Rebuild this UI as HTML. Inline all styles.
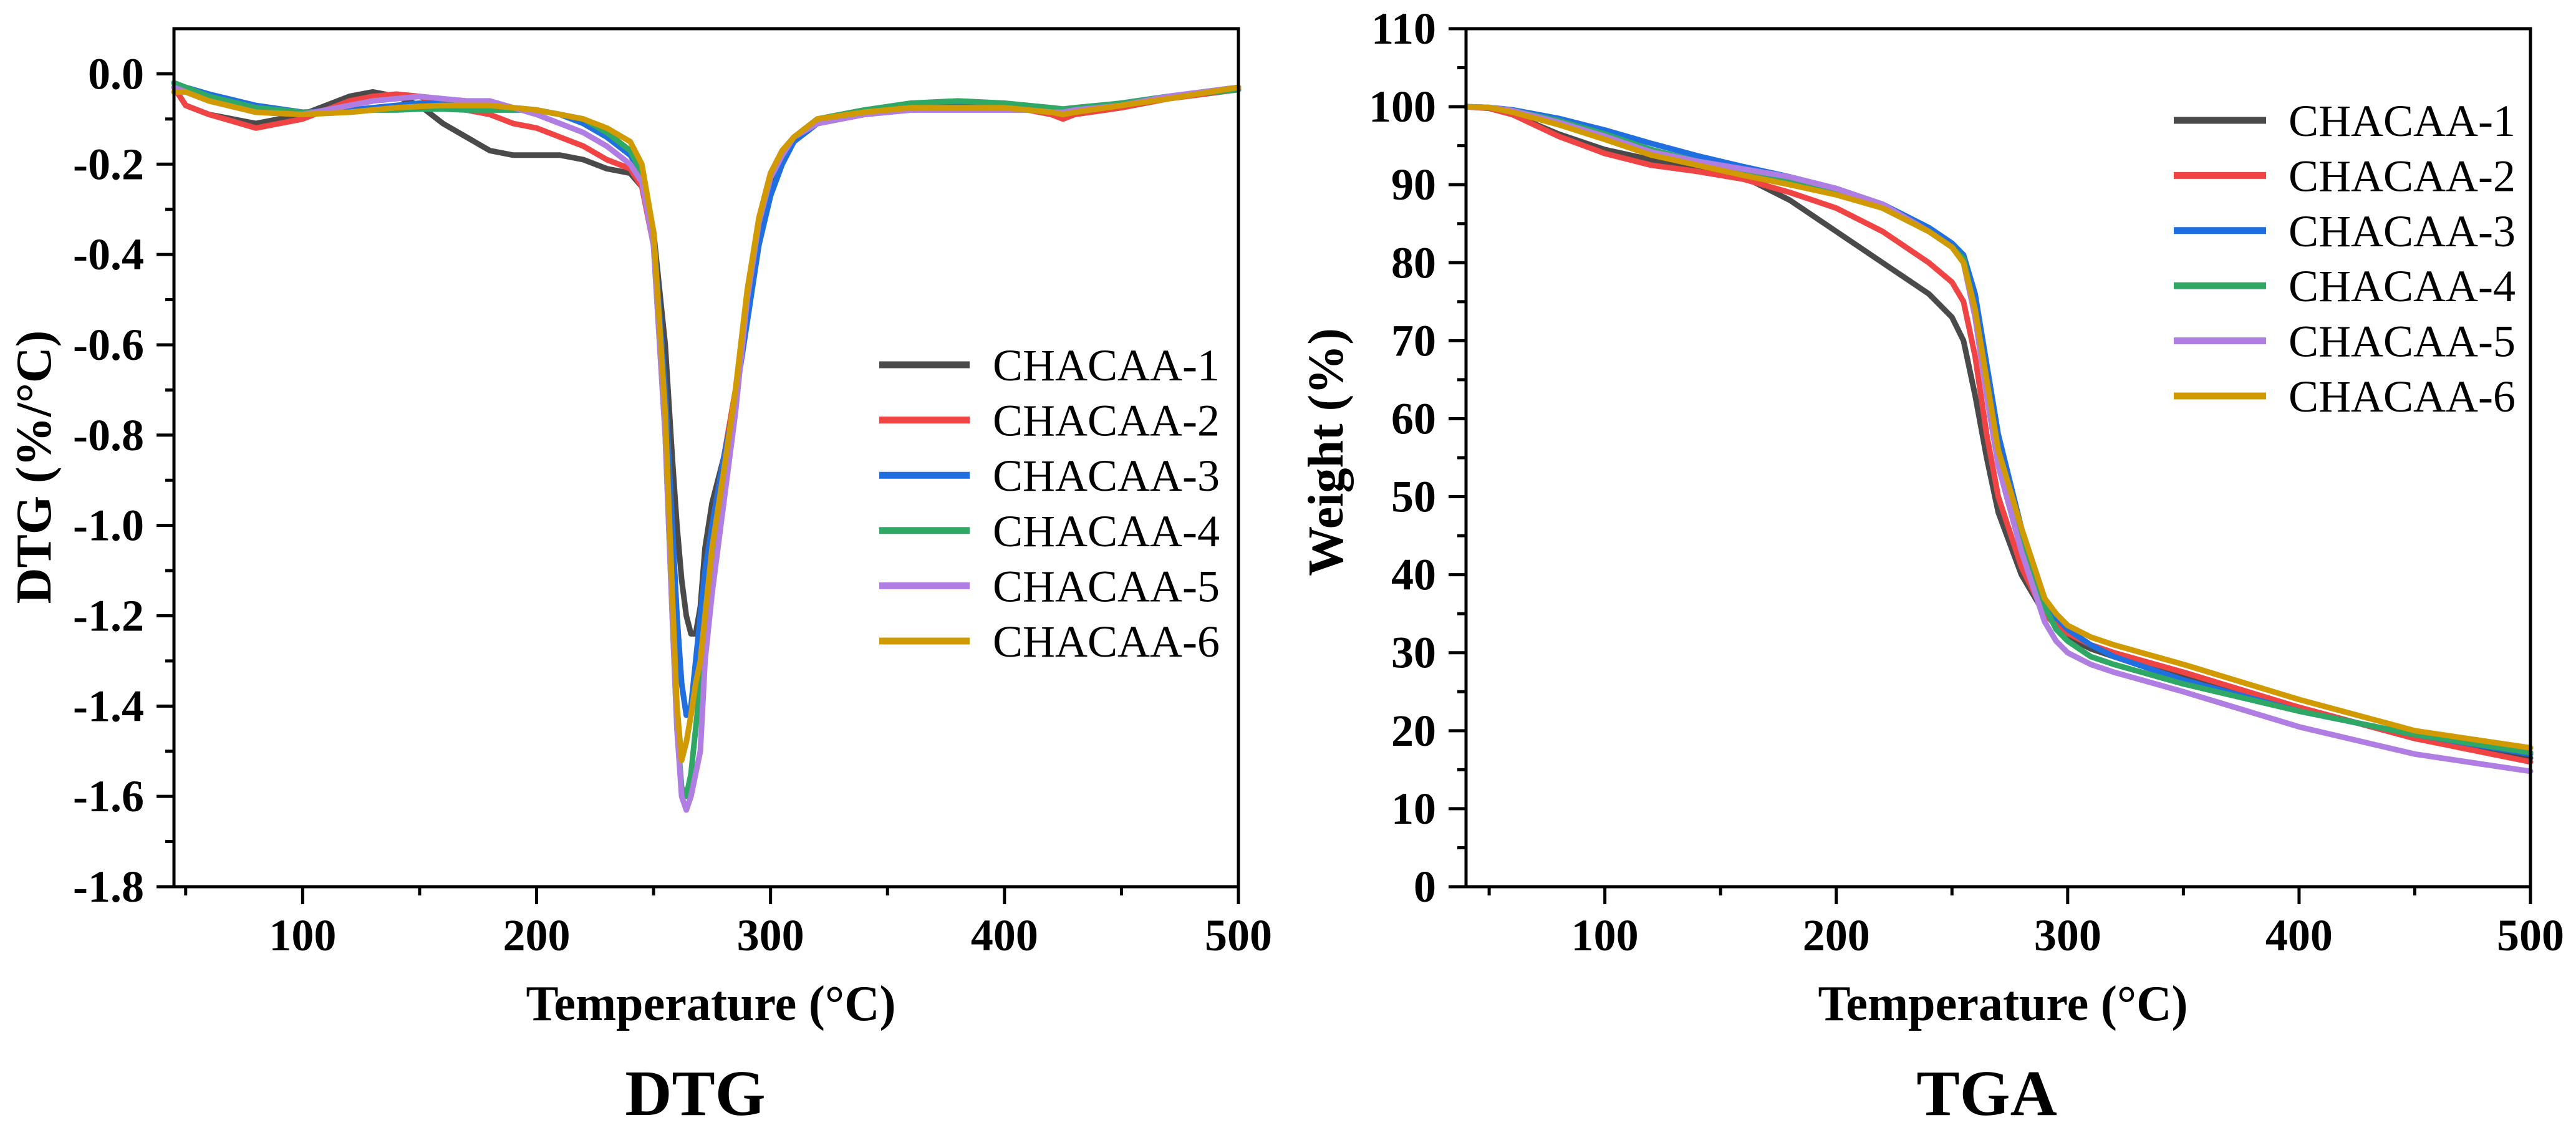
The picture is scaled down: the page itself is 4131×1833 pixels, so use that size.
<!DOCTYPE html>
<html><head><meta charset="utf-8"><style>
html,body{margin:0;padding:0;background:#fff;}
svg{display:block;}
svg text{font-family:"Liberation Serif","Times New Roman",Times,serif;}
</style></head>
<body>
<svg id="fig" width="4131" height="1833" viewBox="0 0 4131 1833" xmlns="http://www.w3.org/2000/svg"></svg>
<script>
// ---------- DTG data ----------
const dtgTemps = [45,50,60,80,100,120,130,140,150,160,170,180,190,200,210,220,230,240,245,250,255,258,260,262,264,266,268,270,272,275,280,285,290,295,300,305,310,320,340,360,380,400,410,420,425,430,450,470,500];
const dtg1 = [-0.03,-0.07,-0.09,-0.11,-0.09,-0.05,-0.04,-0.05,-0.07,-0.11,-0.14,-0.17,-0.18,-0.18,-0.18,-0.19,-0.21,-0.22,-0.25,-0.35,-0.6,-0.85,-1.0,-1.12,-1.2,-1.24,-1.24,-1.18,-1.05,-0.95,-0.85,-0.72,-0.5,-0.35,-0.25,-0.19,-0.15,-0.11,-0.09,-0.075,-0.07,-0.075,-0.075,-0.085,-0.09,-0.085,-0.07,-0.055,-0.03];
const dtg2 = [-0.03,-0.07,-0.09,-0.12,-0.1,-0.06,-0.05,-0.045,-0.05,-0.07,-0.08,-0.09,-0.11,-0.12,-0.14,-0.16,-0.19,-0.21,-0.25,-0.38,-0.7,-1.0,-1.2,-1.35,-1.42,-1.42,-1.35,-1.22,-1.12,-1.0,-0.85,-0.7,-0.5,-0.32,-0.22,-0.17,-0.14,-0.11,-0.09,-0.08,-0.075,-0.075,-0.08,-0.09,-0.1,-0.09,-0.075,-0.055,-0.035];
const dtg3 = [-0.02,-0.03,-0.045,-0.07,-0.085,-0.08,-0.075,-0.07,-0.065,-0.065,-0.07,-0.07,-0.075,-0.08,-0.09,-0.11,-0.14,-0.18,-0.22,-0.35,-0.7,-1.0,-1.2,-1.35,-1.42,-1.4,-1.3,-1.2,-1.1,-1.0,-0.85,-0.72,-0.55,-0.38,-0.27,-0.2,-0.15,-0.11,-0.085,-0.075,-0.07,-0.075,-0.075,-0.08,-0.08,-0.08,-0.065,-0.05,-0.03];
const dtg4 = [-0.02,-0.03,-0.05,-0.075,-0.085,-0.085,-0.08,-0.08,-0.078,-0.078,-0.08,-0.08,-0.08,-0.08,-0.09,-0.1,-0.13,-0.17,-0.22,-0.38,-0.8,-1.2,-1.45,-1.58,-1.6,-1.55,-1.45,-1.35,-1.2,-1.1,-0.9,-0.72,-0.5,-0.33,-0.23,-0.18,-0.14,-0.1,-0.08,-0.065,-0.06,-0.065,-0.07,-0.075,-0.078,-0.075,-0.065,-0.05,-0.035];
const dtg5 = [-0.03,-0.04,-0.06,-0.085,-0.09,-0.07,-0.06,-0.055,-0.05,-0.055,-0.06,-0.06,-0.075,-0.09,-0.11,-0.13,-0.16,-0.2,-0.24,-0.38,-0.8,-1.2,-1.45,-1.6,-1.63,-1.6,-1.55,-1.5,-1.3,-1.15,-0.95,-0.75,-0.5,-0.33,-0.23,-0.18,-0.14,-0.11,-0.09,-0.08,-0.08,-0.08,-0.08,-0.085,-0.085,-0.08,-0.07,-0.05,-0.03];
const dtg6 = [-0.04,-0.04,-0.06,-0.085,-0.09,-0.085,-0.08,-0.075,-0.072,-0.07,-0.07,-0.07,-0.075,-0.08,-0.09,-0.1,-0.12,-0.15,-0.2,-0.35,-0.75,-1.15,-1.4,-1.52,-1.48,-1.42,-1.35,-1.3,-1.2,-1.05,-0.88,-0.7,-0.48,-0.32,-0.22,-0.17,-0.14,-0.1,-0.085,-0.075,-0.075,-0.075,-0.08,-0.085,-0.09,-0.085,-0.07,-0.055,-0.03];
const dtgXTicks = [100,200,300,400,500];
const dtgYTicks = [0.0,-0.2,-0.4,-0.6,-0.8,-1.0,-1.2,-1.4,-1.6,-1.8];
const dtgYLabels = ["0.0","-0.2","-0.4","-0.6","-0.8","-1.0","-1.2","-1.4","-1.6","-1.8"];

// ---------- TGA data ----------
const tgaTemps = [40,50,60,80,100,120,140,160,180,200,220,240,250,255,260,265,270,280,290,295,300,310,320,350,400,450,500];
const tga1 = [100,99.8,99,96.5,94.5,93.2,92.3,91,88,84,80,76,73,70,63,55,48,40,35,33.5,32,30.5,29.5,27,23,19,16.5];
const tga2 = [100,99.8,99,96.2,94,92.5,91.7,90.7,89,87,84,80,77.5,75,68,58,50,41,35,33.5,32.5,31,30,27.5,23,19,16];
const tga3 = [100,99.9,99.6,98.5,97,95.3,93.7,92.3,91,89.5,87.5,84.5,82.5,81,76,67,58,46,37,34.5,33,31,29.5,26.5,22.5,19.5,17];
const tga4 = [100,99.9,99.5,98.2,96.5,94.5,93,91.8,90.5,89,87,84,82,80.5,74,65,56,45,36,33,31.5,29.5,28.5,26,22.5,19.5,17.2];
const tga5 = [100,99.9,99.5,98,96.2,94.2,93,92,91,89.5,87.5,84,82,80,73,63,54,43,34,31.5,30,28.5,27.5,25,20.5,17,14.8];
const tga6 = [100,99.9,99.3,97.7,95.8,93.8,92.5,91.2,90,88.7,87,84,82,80,74,65,56,46,37,35,33.5,32,31,28.5,24,20,17.8];
const tgaXTicks = [100,200,300,400,500];
const tgaYTicks = [0,10,20,30,40,50,60,70,80,90,100,110];

const seriesNames = ["CHACAA-1","CHACAA-2","CHACAA-3","CHACAA-4","CHACAA-5","CHACAA-6"];
const seriesColors = ["#4a4a4a","#f04444","#1f6fe0","#2fa866","#b07ee2","#d09a00"];

const NS="http://www.w3.org/2000/svg";
const fig=document.getElementById('fig');
const FONT='"Liberation Serif","Times New Roman",Times,serif';
function mk(tag,attrs,parent){const e=document.createElementNS(NS,tag);for(const k in attrs)e.setAttribute(k,attrs[k]);if(tag==='text')e.setAttribute('font-family',FONT);(parent||fig).appendChild(e);return e;}

function drawPanel(cfg){
  const g=mk('g',{});
  
  
  const sx=v=>cfg.L+(v-cfg.xmin)/(cfg.xmax-cfg.xmin)*(cfg.R-cfg.L);
  const sy=v=>cfg.B-(v-cfg.ymin)/(cfg.ymax-cfg.ymin)*(cfg.B-cfg.T);
  cfg.series.forEach((vals,i)=>{
    let d='';
    vals.forEach((v,j)=>{d+=(j?'L':'M')+sx(cfg.temps[j]).toFixed(1)+','+sy(v).toFixed(1);});
    const p=mk('path',{d:d,fill:'none',stroke:seriesColors[i],'stroke-width':9,'stroke-linejoin':'round','stroke-linecap':'round'},g);
    
    
  });
  const fr=mk('rect',{x:cfg.L,y:cfg.T,width:cfg.R-cfg.L,height:cfg.B-cfg.T,fill:'none',stroke:'#000','stroke-width':5},g);
  
  
  cfg.xTicks.forEach(t=>{
    const x=sx(t);
    mk('line',{x1:x,y1:cfg.B,x2:x,y2:cfg.B+28,stroke:'#000','stroke-width':5},g);
    const tx=mk('text',{x:x,y:1524,'text-anchor':'middle','font-size':72,'font-weight':'bold'},g);
    tx.textContent=t;
    
    
  });
  for(let t=50;t<cfg.xmax;t+=100){ if(t>cfg.xmin){const x=sx(t);mk('line',{x1:x,y1:cfg.B,x2:x,y2:cfg.B+14,stroke:'#000','stroke-width':5},g);} }
  cfg.yTicks.forEach((t,i)=>{
    const y=sy(t);
    mk('line',{x1:cfg.L-28,y1:y,x2:cfg.L,y2:y,stroke:'#000','stroke-width':5},g);
    const tx=mk('text',{x:cfg.L-48,y:y+24,'text-anchor':'end','font-size':72,'font-weight':'bold'},g);
    tx.textContent=cfg.yLabels?cfg.yLabels[i]:t;
    
    
  });
  for(let i=0;i<cfg.yTicks.length-1;i++){
    const m=(cfg.yTicks[i]+cfg.yTicks[i+1])/2;const y=sy(m);
    mk('line',{x1:cfg.L-14,y1:y,x2:cfg.L,y2:y,stroke:'#000','stroke-width':5},g);
  }
  const xt=mk('text',{x:cfg.xtX,y:1636,'text-anchor':'middle','font-size':80,'font-weight':'bold',textLength:593,lengthAdjust:'spacingAndGlyphs'},g);
  xt.textContent='Temperature (°C)';
  
  
  const yt=mk('text',{x:0,y:0,'text-anchor':'middle','font-size':80,'font-weight':'bold',transform:'translate('+(cfg.ytX+28)+','+cfg.ytY+') rotate(-90)'},g);
  yt.textContent=cfg.yTitle;
  
  
  const pt=mk('text',{x:cfg.ptX,y:1788,'text-anchor':'middle','font-size':104,'font-weight':'bold'},g);
  pt.textContent=cfg.title;
  
  
  seriesNames.forEach((n,i)=>{
    const y=cfg.legY[0]+i*cfg.legStep;
    const le=mk('g',{},g);
    
    
    mk('line',{x1:cfg.legX1,y1:y,x2:cfg.legX2,y2:y,stroke:seriesColors[i],'stroke-width':11},le);
    const t=mk('text',{x:cfg.legTX,y:y+25,'font-size':72},le);
    t.textContent=n;
  });
}

drawPanel({id:'dtg',L:279,R:1986,T:46,B:1422,xmin:45,xmax:500,ymin:-1.8,ymax:0.1,
  temps:dtgTemps,series:[dtg1,dtg2,dtg3,dtg4,dtg5,dtg6],xTicks:dtgXTicks,yTicks:dtgYTicks,yLabels:dtgYLabels,
  xtX:1140,ytX:53,ytY:749,yTitle:'DTG (%/°C)',ptX:1115,title:'DTG',
  legX1:1410,legX2:1555,legTX:1592,legY:[585],legStep:88.6});
drawPanel({id:'tga',L:2351,R:4058,T:46,B:1422,xmin:40,xmax:500,ymin:0,ymax:110,
  temps:tgaTemps,series:[tga1,tga2,tga3,tga4,tga5,tga6],xTicks:tgaXTicks,yTicks:tgaYTicks,
  xtX:3212,ytX:2125,ytY:725,yTitle:'Weight (%)',ptX:3186,title:'TGA',
  legX1:3486,legX2:3634,legTX:3670,legY:[193],legStep:88.4});
</script>
</body></html>
